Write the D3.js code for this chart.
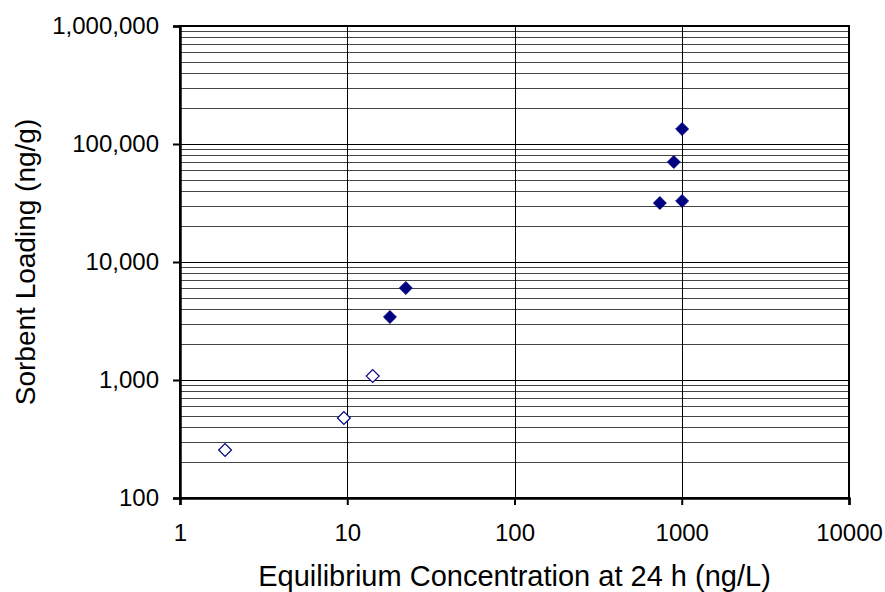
<!DOCTYPE html>
<html lang="en">
<head>
    <meta charset="UTF-8">
    <title>Sorbent Loading</title>
    <script src="https://d3js.org/d3.v7.min.js"></script>
    <style>
        body { margin: 0; background: #fff; }
        text { font-family: "Liberation Sans", Arial, sans-serif; fill: #000; }
    </style>
</head>
<body>
    <div id="chart"></div>

    <script>
        // open diamonds (lower concentrations)
        const openX = [1.86, 9.55, 14.2];
        const openY = [255, 476, 1080];
        // filled diamonds
        const filledX = [18.0, 22.4, 740, 897, 1005, 1005];
        const filledY = [3420, 6020, 31600, 70400, 32900, 134000];

        const xTicks = [1, 10, 100, 1000, 10000];
        const yTicks = [100, 1000, 10000, 100000, 1000000];

        const width = 885, height = 592;
        const margin = { left: 180, right: 36, top: 26, bottom: 94 };

        const svg = d3.select('#chart').append('svg')
            .attr('width', width)
            .attr('height', height);

        const x = d3.scaleLog().domain([1, 10000]).range([margin.left, width - margin.right]);
        const y = d3.scaleLog().domain([100, 1000000]).range([height - margin.bottom, margin.top]);

        // minor horizontal gridlines (2..9 in each decade)
        const minorY = [];
        for (let d = 100; d < 1000000; d *= 10) {
            for (let k = 2; k <= 9; k++) minorY.push(d * k);
        }
        svg.append('g').selectAll('line')
            .data(minorY)
            .enter().append('line')
            .attr('x1', x(1)).attr('x2', x(10000))
            .attr('y1', d => Math.round(y(d)) + 0.5).attr('y2', d => Math.round(y(d)) + 0.5)
            .attr('stroke', '#444')
            .attr('stroke-width', 1);

        // major gridlines
        svg.append('g').selectAll('line')
            .data(yTicks)
            .enter().append('line')
            .attr('x1', x(1)).attr('x2', x(10000))
            .attr('y1', d => Math.round(y(d)) + 0.5).attr('y2', d => Math.round(y(d)) + 0.5)
            .attr('stroke', '#000');
        svg.append('g').selectAll('line')
            .data(xTicks)
            .enter().append('line')
            .attr('x1', d => Math.round(x(d)) + 0.5).attr('x2', d => Math.round(x(d)) + 0.5)
            .attr('y1', y(100)).attr('y2', y(1000000))
            .attr('stroke', '#000');

        // frame
        svg.append('rect')
            .attr('x', x(1)).attr('y', y(1000000))
            .attr('width', x(10000) - x(1))
            .attr('height', y(100) - y(1000000))
            .attr('fill', 'none')
            .attr('stroke', '#000')
            .attr('stroke-width', 2);

        // axes
        const xAxis = d3.axisBottom(x)
            .tickValues(xTicks)
            .tickFormat(d3.format('d'))
            .tickSize(7)
            .tickPadding(19);
        const gx = svg.append('g')
            .attr('transform', `translate(0,${y(100)})`)
            .call(xAxis);

        const yAxis = d3.axisLeft(y)
            .tickValues(yTicks)
            .tickFormat(d3.format(','))
            .tickSize(7)
            .tickPadding(14);
        const gy = svg.append('g')
            .attr('transform', `translate(${x(1)},0)`)
            .call(yAxis);

        [gx, gy].forEach(g => {
            g.select('.domain').attr('stroke-width', 2.5);
            g.selectAll('.tick line').attr('stroke-width', 2);
            g.selectAll('.tick text')
                .style('font-family', '"Liberation Sans", Arial, sans-serif')
                .style('font-size', '24px');
        });

        // markers
        const diamond = d3.symbol().type(d3.symbolDiamond2).size(105);
        svg.append('g').selectAll('path')
            .data(openX.map((v, i) => [v, openY[i]]))
            .enter().append('path')
            .attr('transform', d => `translate(${x(d[0])},${y(d[1])})`)
            .attr('d', diamond)
            .attr('fill', '#fff')
            .attr('stroke', '#000080')
            .attr('stroke-width', 1.2);
        svg.append('g').selectAll('path')
            .data(filledX.map((v, i) => [v, filledY[i]]))
            .enter().append('path')
            .attr('transform', d => `translate(${x(d[0])},${y(d[1])})`)
            .attr('d', diamond)
            .attr('fill', '#000080')
            .attr('stroke', '#000080')
            .attr('stroke-width', 1);

        // titles
        svg.append('text')
            .attr('x', (x(1) + x(10000)) / 2)
            .attr('y', 586)
            .attr('text-anchor', 'middle')
            .style('font-size', '29px')
            .text('Equilibrium Concentration at 24 h (ng/L)');

        svg.append('text')
            .attr('transform', `translate(35,${(y(100) + y(1000000)) / 2}) rotate(-90)`)
            .attr('text-anchor', 'middle')
            .style('font-size', '28px')
            .text('Sorbent Loading (ng/g)');
    </script>
</body>
</html>
